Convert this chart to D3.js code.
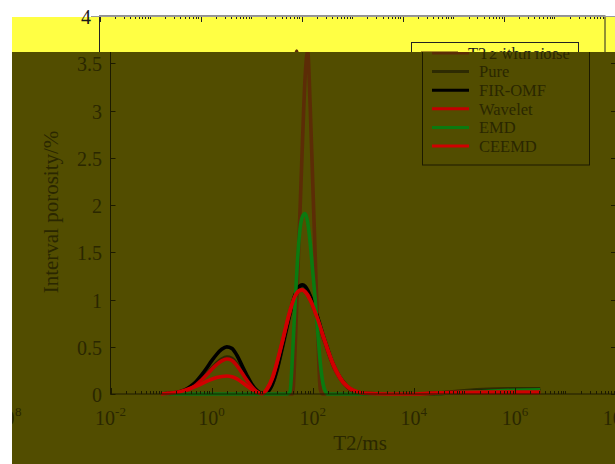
<!DOCTYPE html>
<html><head><meta charset="utf-8">
<script src="https://cdn.jsdelivr.net/npm/d3@7"></script>
<style>html,body{margin:0;padding:0;background:#fff;} svg{display:block;}</style>
</head><body>
<svg id="chart" width="615" height="464"></svg>
<script>
// ---- data ----
const t2Exponents = [-1.0,-0.9,-0.8,-0.7,-0.6,-0.5,-0.4,-0.3,-0.2,-0.1,
  0.0,0.1,0.2,0.3,0.4,0.5,0.6,0.7,0.8,0.9,
  1.0,1.1,1.2,1.3,1.4,1.45,1.5,1.55,1.6,1.65,
  1.7,1.75,1.8,1.85,1.9,1.95,2.0,2.05,2.1,2.15,
  2.2,2.25,2.3,2.35,2.4,2.5,2.6,2.7,2.8,2.9,
  3.0,3.5,4.0,4.5,5.0,5.5,6.0,6.5];
const seriesNames = ["T2 with noise","Pure","FIR-OMF","Wavelet","EMD","CEEMD"];
const noiseValues = [0,0,0,0,0,0,0,0,0,0,
  0,0,0,0,0,0,0,0,0,0,
  0,0,0,0,0,0,0,0,0,0.45,
  1.2,1.95,2.7,3.35,3.63,3.05,2.25,1.45,0.65,0.05,
  0,0,0,0,0,0,0,0,0,0,
  0,0,0,0.01,0.03,0.045,0.05,0.055];
const pureValues = [0,0.003,0.006,0.012,0.023,0.04,0.068,0.106,0.156,0.212,
  0.273,0.328,0.369,0.39,0.377,0.32,0.236,0.153,0.078,0.027,
  0.004,0.02,0.1,0.26,0.485,0.6,0.72,0.835,0.93,1.02,
  1.08,1.11,1.12,1.105,1.067,1.01,0.94,0.865,0.785,0.7,
  0.61,0.535,0.455,0.38,0.31,0.205,0.125,0.068,0.034,0.015,
  0.005,0,0,0.01,0.035,0.05,0.055,0.055];
const firValues = [0,0.004,0.008,0.015,0.03,0.052,0.087,0.136,0.2,0.272,
  0.35,0.42,0.473,0.499,0.483,0.41,0.303,0.196,0.1,0.035,
  0.005,0.02,0.1,0.27,0.5,0.62,0.74,0.86,0.96,1.05,
  1.11,1.145,1.155,1.14,1.1,1.04,0.97,0.89,0.81,0.72,
  0.63,0.55,0.47,0.39,0.32,0.21,0.13,0.07,0.035,0.015,
  0.005,0,0,0.005,0.02,0.03,0.035,0.035];
const waveletValues = [0,0.003,0.006,0.011,0.022,0.038,0.064,0.1,0.148,0.2,
  0.26,0.31,0.35,0.37,0.357,0.3,0.224,0.145,0.075,0.025,
  0.003,0.05,0.16,0.34,0.55,0.66,0.77,0.87,0.96,1.03,
  1.075,1.095,1.1,1.085,1.05,1.0,0.94,0.865,0.785,0.7,
  0.615,0.535,0.455,0.38,0.31,0.2,0.12,0.068,0.036,0.018,
  0.008,0,0,0.01,0.015,0.015,0.015,0.015];
const emdValues = [0,0,0,0,0,0,0,0,0,0,
  0,0,0,0,0,0,0,0,0,0,
  0,0,0,0,0,0,0,0.02,0.4,0.95,
  1.42,1.75,1.88,1.91,1.82,1.6,1.3,1.0,0.65,0.33,
  0.12,0.03,0,0,0,0,0,0,0,0,
  0,0,0,0.005,0.02,0.03,0.04,0.045];
const ceemdValues = [0,0.005,0.01,0.018,0.03,0.045,0.064,0.085,0.108,0.133,
  0.156,0.175,0.186,0.19,0.183,0.16,0.125,0.085,0.048,0.018,
  0.003,0.06,0.17,0.35,0.56,0.67,0.78,0.88,0.965,1.035,
  1.08,1.1,1.1,1.08,1.045,0.995,0.935,0.865,0.79,0.71,
  0.63,0.55,0.47,0.395,0.325,0.215,0.13,0.075,0.04,0.02,
  0.008,0,0,0.012,0.018,0.02,0.02,0.02];
const yTickValues = [0,0.5,1,1.5,2,2.5,3,3.5,4];
const yTickLabels = ["0","0.5","1","1.5","2","2.5","3","3.5","4"];
const xTickExponents = [-2,0,2,4,6,8];
const xLabel = "T2/ms";
const yLabel = "Interval porosity/%";

// ---- styles ----
const seriesColors = ["#5c2c06","#2e2b02","#000000","#c20000","#0b7a10","#d00000"];
const allValues = [noiseValues,pureValues,firValues,waveletValues,emdValues,ceemdValues];
const FONT = "'Liberation Serif','Times New Roman',serif";

const svg = d3.select("#chart");
const defs = svg.append("defs");
defs.append("clipPath").attr("id","clipMain").append("rect")
  .attr("x",12).attr("y",52).attr("width",603).attr("height",412);
defs.append("clipPath").attr("id","clipTop").append("rect")
  .attr("x",12).attr("y",0).attr("width",603).attr("height",52);

const x = d3.scaleLog().domain([1e-2,1e8]).range([110.5,616]);
const y = d3.scaleLinear().domain([0,4]).range([394,16]);

function drawChart(g, theme){
  const line = d3.line()
    .x(d => x(Math.pow(10,d[0])))
    .y(d => y(d[1]))
    .curve(d3.curveMonotoneX);
  seriesNames.forEach((name,i) => {
    const pts = t2Exponents.map((e,j) => [e, allValues[i][j]]);
    g.append("path").attr("d", line(pts)).attr("fill","none")
      .attr("stroke", seriesColors[i]).attr("stroke-width",3.6)
      .attr("stroke-linejoin","round");
  });
  const x0 = x.range()[0], x1 = x.range()[1], yb = y(0), yt = y(4);
  g.append("rect").attr("x",x0).attr("y",yt).attr("width",x1-x0).attr("height",yb-yt)
    .attr("fill","none").attr("stroke",theme.axis).attr("stroke-width",1);
  for (let d=-2; d<8; d++){
    for (let k=1; k<10; k++){
      const v = k*Math.pow(10,d);
      const px = Math.round(x(v))+0.5;
      const len = (k===1 && d%2===0) ? 6 : 3;
      g.append("line").attr("x1",px).attr("x2",px).attr("y1",yb).attr("y2",yb-len)
        .attr("stroke",theme.axis).attr("stroke-width",1);
      g.append("line").attr("x1",px).attr("x2",px).attr("y1",yt).attr("y2",yt+len)
        .attr("stroke",theme.axis).attr("stroke-width",1);
    }
  }
  yTickValues.forEach((v,i) => {
    const py = Math.round(y(v))+0.5;
    g.append("line").attr("x1",x0).attr("x2",x0+5).attr("y1",py).attr("y2",py).attr("stroke",theme.axis);
    g.append("line").attr("x1",x1).attr("x2",x1-5).attr("y1",py).attr("y2",py).attr("stroke",theme.axis);
    g.append("text").attr("x",102).attr("y",py).attr("dy","0.35em")
      .attr("text-anchor","end").attr("font-family",FONT).attr("font-size",20)
      .attr("fill",theme.text).text(yTickLabels[i]);
  });
  xTickExponents.forEach(e => {
    const t = g.append("text").attr("x",x(Math.pow(10,e))).attr("y",425)
      .attr("text-anchor","middle").attr("font-family",FONT).attr("font-size",20)
      .attr("fill",theme.text);
    t.append("tspan").text("10");
    t.append("tspan").attr("dy",-9).attr("font-size",13).text(String(e));
  });
  g.append("text").attr("x",360).attr("y",450).attr("text-anchor","middle")
    .attr("font-family",FONT).attr("font-size",21).attr("fill",theme.text).text(xLabel);
  g.append("text").attr("transform","translate(58,212) rotate(-90)").attr("text-anchor","middle")
    .attr("font-family",FONT).attr("font-size",21).attr("fill",theme.text).text(yLabel);
  const lg = g.append("g");
  lg.append("rect").attr("x",422.5).attr("y",42.5).attr("width",167).attr("height",122.5)
    .attr("fill",theme.bg).attr("stroke",theme.axis).attr("stroke-width",1);
  seriesNames.forEach((name,i) => {
    const cy = 53 + i*18.6;
    lg.append("line").attr("x1",432).attr("x2",469).attr("y1",cy).attr("y2",cy)
      .attr("stroke",seriesColors[i]).attr("stroke-width",3);
    lg.append("text").attr("x",479).attr("y",cy).attr("dy","0.35em")
      .attr("font-family",FONT).attr("font-size",16.5).attr("fill",theme.text).text(name);
  });
}

// main (olive) view
const mainG = svg.append("g").attr("clip-path","url(#clipMain)");
mainG.append("rect").attr("x",12).attr("y",52).attr("width",603).attr("height",412).attr("fill","#524d00");
drawChart(mainG.append("g"), {bg:"#524d00", axis:"#1c1a00", text:"#2a2700"});
mainG.append("text").attr("x",14.5).attr("y",425).attr("text-anchor","end")
  .attr("font-family",FONT).attr("font-size",20).attr("fill","#2a2700").text("10");
mainG.append("text").attr("x",15).attr("y",416).attr("font-family",FONT).attr("font-size",13)
  .attr("fill","#2a2700").text("8");

// top (yellow) shifted band
const topG = svg.append("g").attr("clip-path","url(#clipTop)");
topG.append("rect").attr("x",12).attr("y",17).attr("width",603).attr("height",35).attr("fill","#ffff44");
drawChart(topG.append("g").attr("transform","translate(-11,0)"), {bg:"#ffff44", axis:"#222", text:"#1a1a1a"});
svg.append("line").attr("x1",91).attr("x2",615).attr("y1",16.5).attr("y2",16.5)
  .attr("stroke","#999").attr("stroke-width",1.2);
</script>
</body></html>
